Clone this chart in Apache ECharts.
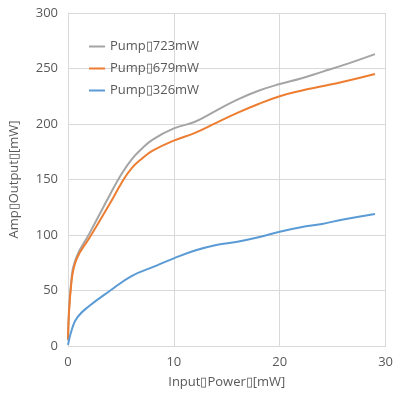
<!DOCTYPE html>
<html><head><meta charset="utf-8">
<script src="https://cdn.jsdelivr.net/npm/echarts@6/dist/echarts.min.js"></script>
<style>html,body{margin:0;padding:0;background:#fff}#c{width:396px;height:399px}</style>
</head><body><div id="c"></div>
<script>
const T = "\u25AF";
const seriesNames = ["Pump" + T + "723mW", "Pump" + T + "679mW", "Pump" + T + "326mW"];
const xName = "Input" + T + "Power" + T + "[mW]";
const yName = "Amp" + T + "Output" + T + "[mW]";
const pump723 = [[0,5],[0.3,58],[0.8,80],[2,101],[4,137],[5,154],[6,168],[7,178],[8,186],[10,196],[12,202],[14,212],[16,222],[18,230],[20,236],[22,241],[24,247],[26,253],[29,263]];
const pump679 = [[0,6],[0.3,55],[0.8,78],[2,97],[4,129],[5,146],[6,160],[7,169],[8,176],[10,185],[12,192],[14,201],[16,210],[18,218],[20,225],[22,230],[24,234],[26,238],[29,245]];
const pump326 = [[0,1],[0.4,16],[0.9,26],[2,36],[4,50],[6,63],[8,71],[10,79],[12,86],[14,91],[16,94],[18,98],[20,103],[22,107],[24,110],[26,114],[29,119]];
const colors = ["#a5a5a5", "#ed7d31", "#5b9bd5"];
const font = "'Open Sans', 'Noto Sans', sans-serif";
const chart = echarts.init(document.getElementById('c'), null, {renderer: 'canvas'});
const mk = (name, data, c) => ({
  name, type: 'line', data, smooth: 0.45, showSymbol: false, symbol: 'none',
  lineStyle: {color: c, width: 2}, itemStyle: {color: c}
});
chart.setOption({
  animation: false,
  color: colors,
  grid: {left: 66, right: 8, top: 13, bottom: 53, containLabel: false},
  legend: {
    orient: 'vertical', left: 84, top: 35, itemGap: 9,
    icon: 'rect', itemWidth: 16, itemHeight: 2,
    textStyle: {color: '#595959', fontSize: 13, fontFamily: font},
    data: seriesNames
  },
  xAxis: {
    type: 'value', min: 0, max: 30, interval: 10,
    name: xName, nameLocation: 'middle', nameGap: 30,
    nameTextStyle: {color: '#595959', fontSize: 13, fontFamily: font},
    axisLine: {lineStyle: {color: '#d9d9d9'}},
    axisTick: {show: false},
    axisLabel: {color: '#595959', fontSize: 13, fontFamily: font, margin: 10},
    splitLine: {show: true, lineStyle: {color: '#d9d9d9'}}
  },
  yAxis: {
    type: 'value', min: 0, max: 300, interval: 50,
    name: yName, nameLocation: 'middle', nameGap: 47,
    nameTextStyle: {color: '#595959', fontSize: 13, fontFamily: font},
    axisLine: {show: true, lineStyle: {color: '#d9d9d9'}},
    axisTick: {show: false},
    axisLabel: {color: '#595959', fontSize: 13, fontFamily: font, margin: 10},
    splitLine: {show: true, lineStyle: {color: '#d9d9d9'}}
  },
  series: [mk(seriesNames[0], pump723, colors[0]), mk(seriesNames[1], pump679, colors[1]), mk(seriesNames[2], pump326, colors[2])]
});
</script></body></html>
